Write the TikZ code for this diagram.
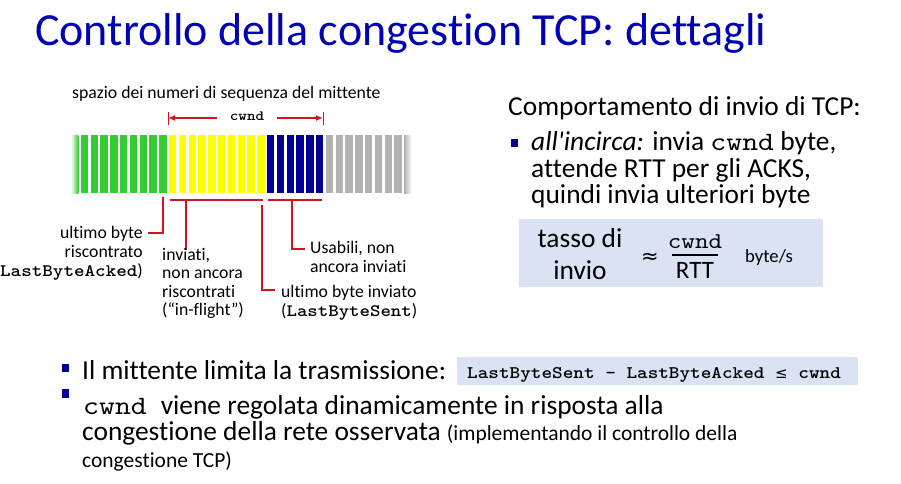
\documentclass[tikz,border=0pt]{standalone}
\usepackage{fontspec}
\setmainfont{Carlito}[Ligatures={NoCommon}]
\newfontfamily\courfont{lmmono10-regular.otf}[FakeStretch=1.143]
\newfontfamily\courbold{lmmonolt10-bold.otf}[FakeStretch=1.143]
\newfontfamily\symfont{DejaVu Sans}
\usetikzlibrary{arrows.meta}

\definecolor{titleBlue}{RGB}{0,0,180}
\definecolor{barGreen}{RGB}{50,205,50}
\definecolor{barYellow}{RGB}{255,255,0}
\definecolor{barBlue}{RGB}{0,0,150}
\definecolor{barGray}{RGB}{178,178,178}
\definecolor{markRed}{RGB}{210,20,30}
\definecolor{boxFill}{RGB}{218,227,243}
\definecolor{bulletBlue}{RGB}{0,0,150}

\newcommand\fsz[2]{\fontsize{#1}{#2}\selectfont}

\begin{document}
\begin{tikzpicture}[x=1pt,y=-1pt,
  txt/.style={inner sep=0pt, anchor=base west},
  txtr/.style={inner sep=0pt, anchor=base east},
  txtc/.style={inner sep=0pt, anchor=base},
  lbl/.style={font=\fsz{17.7}{19}},
  body/.style={font=\fsz{27.4}{30}},
  small/.style={font=\fsz{21.5}{24}},
  marker/.style={draw=markRed, line width=1.8pt},
  bullet/.style={fill=bulletBlue},
  panel/.style={fill=boxFill, inner sep=0pt, anchor=north west}
]
\useasboundingbox (0,0) rectangle (901,483);

% title
\node[txt, font=\fsz{46}{50}, text=titleBlue] (title) at (35,45)
  {Controllo della congestion TCP: dettagli};

% ---- sequence number space ----
\node[txt, lbl] (space) at (72,98) {spazio dei numeri di sequenza del mittente};

% stripes of the byte stream
\shade[left color=white, right color=barGreen] (71,135) rectangle ++(7.4,58);
\foreach \i in {1,...,9}  \fill[barGreen]  ({71+9.8*\i},135) rectangle ++(7.4,58);
\foreach \i in {10,...,19}\fill[barYellow] ({71+9.8*\i},135) rectangle ++(7.4,58);
\foreach \i in {20,...,25}\fill[barBlue]   ({71+9.8*\i},135) rectangle ++(7.4,58);
\foreach \i in {26,...,33}\fill[barGray]   ({71+9.8*\i},135) rectangle ++(7.4,58);
\shade[left color=barGray, right color=white] ({71+9.8*34},135) rectangle ++(7.4,58);

% cwnd span above the bar
\coordinate (cwL)  at (168,118);
\coordinate (cwLi) at (217,118);
\coordinate (cwR)  at (323,118);
\coordinate (cwRi) at (277,118);
\draw[marker, -{Latex[length=7pt,width=6pt]}] (cwLi) -- (cwL);
\draw[marker, -{Latex[length=7pt,width=6pt]}] (cwRi) -- (cwR);
\draw[markRed, line width=0.8pt] (168,112) -- (168,125);
\draw[markRed, line width=0.8pt] (323,112) -- (323,125);
\node[txtc, font=\courbold\fsz{14.2}{16}] (cwndLbl) at (247,120) {cwnd};

% brackets and leaders under the bar
\coordinate (ylA) at (170,200);
\coordinate (ylB) at (263,200);
\coordinate (blA) at (268,200);
\coordinate (blB) at (322,200);
\draw[marker] (ylA) -- (ylB);
\draw[marker] (blA) -- (blB);

\coordinate (ackTop) at (163,197);
\coordinate (ackEnd) at (148,233);
\draw[marker] (ackTop) |- (ackEnd);

\coordinate (flyTop) at (186,200);
\coordinate (flyEnd) at (186,250);
\draw[marker] (flyTop) -- (flyEnd);

\coordinate (sentTop) at (262,205);
\coordinate (sentEnd) at (275,290);
\draw[marker] (sentTop) |- (sentEnd);

\coordinate (useTop) at (292,200);
\coordinate (useEnd) at (305,249);
\draw[marker] (useTop) |- (useEnd);

% leader labels
\node[txtr, lbl] (ack1) at (143,238) {ultimo byte};
\node[txtr, lbl] (ack2) at (143,257) {riscontrato};
\node[txtr, lbl] (ack3) at (143,276) {{\courbold\fsz{17.6}{19}LastByteAcked})};

\node[txt, lbl] (fly1) at (162,260) {inviati,};
\node[txt, lbl] (fly2) at (162,278.5) {non ancora};
\node[txt, lbl] (fly3) at (162,297) {riscontrati};
\node[txt, lbl] (fly4) at (162,315.5) {(“in-flight”)};

\node[txt, lbl] (use1) at (310,253) {Usabili, non};
\node[txt, lbl] (use2) at (310,272) {ancora inviati};

\node[txt, lbl] (sent1) at (281,297) {ultimo byte inviato};
\node[txt, lbl] (sent2) at (281,316) {({\courbold\fsz{17.4}{19}LastByteSent})};

% ---- sending behaviour ----
\node[txt, body] (behav) at (508,115) {Comportamento di invio di TCP:};
\fill[bullet] (511,139) rectangle (518,147);
\node[txt, body] (rb1) at (531,150)
  {\textit{all\textquotesingle incirca:} invia {\courfont\fsz{26.5}{30}cwnd} byte,};
\node[txt, body] (rb2) at (531,177) {attende RTT per gli ACKS,};
\node[txt, body] (rb3) at (531,203) {quindi invia ulteriori byte};

\node[panel, minimum width=304pt, minimum height=68pt] (rateBox) at (519,219) {};
\node[txtc, body] (rate1) at (580,247) {tasso di};
\node[txtc, body] (rate2) at (580,279) {invio};
\node[inner sep=0pt, font=\symfont\fsz{21}{24}] (approx) at (650,258) {≈};
\node[txtc, font=\courfont\fsz{22.6}{24}] (fracNum) at (695,248) {cwnd};
\draw[line width=1.3pt] (672,255) -- (718,255);
\node[txtc, font=\fsz{25}{28}] (fracDen) at (695,278) {RTT};
\node[txtc, font=\fsz{18.7}{21}] (unit) at (769,262) {byte/s};

% ---- bottom bullets ----
\fill[bullet] (61.5,363.5) rectangle (68.5,372);
\node[txt, body] (bb1) at (82,379) {Il mittente limita la trasmissione:};
\node[panel, minimum width=401pt, minimum height=28pt] (limBox) at (457,357) {};
\node[txt, font=\courbold\fsz{17.7}{20}] (limTxt) at (467,378)
  {LastByteSent - LastByteAcked {\symfont\fsz{15}{20}≤} cwnd};

\fill[bullet] (61.5,389) rectangle (68.5,397.5);
\node[txt, body] (bb2) at (83,414)
  {{\courfont\fsz{26.5}{30}cwnd}\hspace{14pt}viene regolata dinamicamente in risposta alla};
\node[txt, body] (bb3) at (82,440)
  {congestione della rete osservata {\fsz{21.5}{24}(implementando il controllo della}};
\node[txt, small] (bb4) at (82,467) {congestione TCP)};
\end{tikzpicture}
\end{document}
